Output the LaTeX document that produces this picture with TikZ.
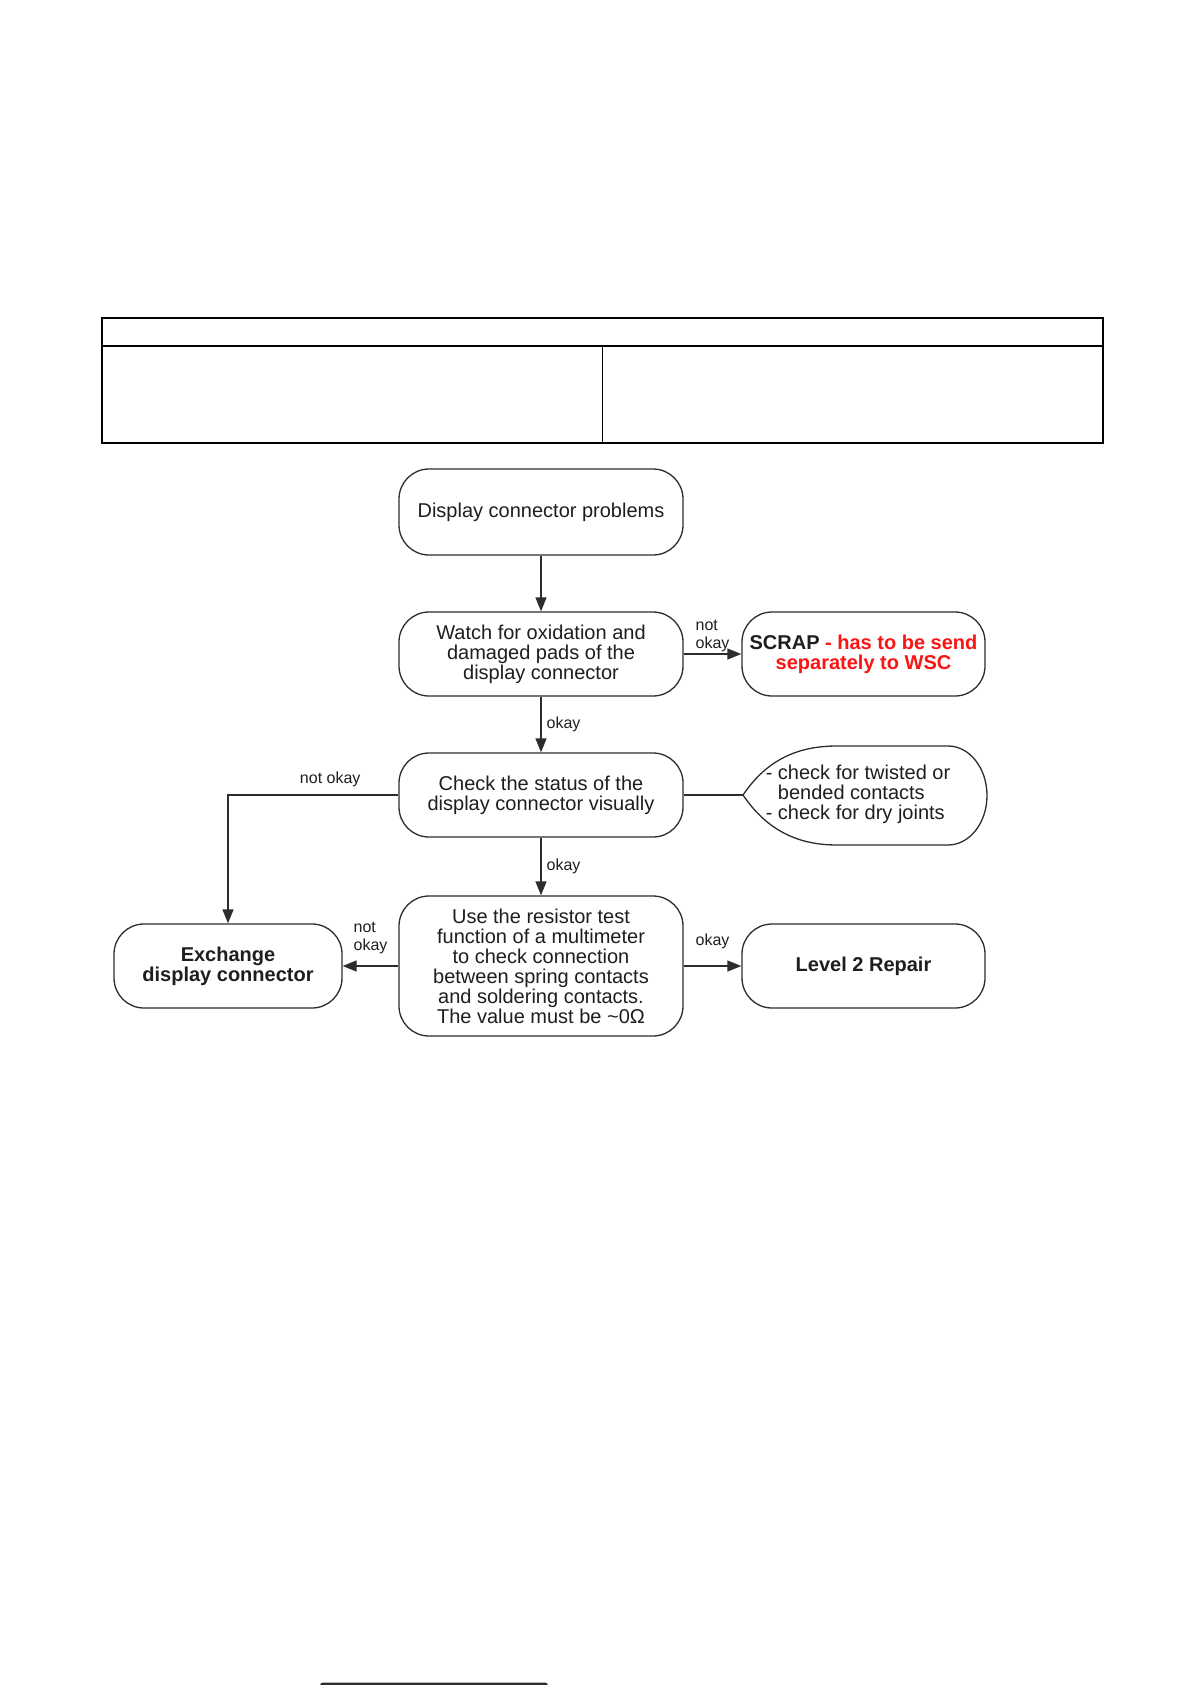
\documentclass[tikz,border=0pt]{standalone}
\usepackage{fontspec}
\setmainfont{Liberation Sans}
\usetikzlibrary{arrows.meta}
\definecolor{linegray}{RGB}{45,45,45}
\definecolor{textgray}{RGB}{30,30,30}
\definecolor{scrapred}{RGB}{250,20,20}
\tikzset{block/.style = {draw=linegray, fill=white, line width=1.3pt, rounded corners=30pt, inner sep=0pt, align=center, text=textgray, font=\fontsize{20}{20}\selectfont},
         lbl/.style = {text=textgray, font=\fontsize{16}{18}\selectfont, inner sep=0pt, align=left},
         notetext/.style = {text=textgray, font=\fontsize{20}{20}\selectfont, inner sep=0pt, align=left},
         flow/.style = {-{Triangle[length=14pt,width=11pt]}, draw=linegray, line width=1.3pt},
         plain/.style = {draw=linegray, line width=1.3pt}}

\begin{document}
\begin{tikzpicture}[x=1pt,y=-1pt]
    \useasboundingbox (0,0) rectangle (1191,1685);
    \draw[line width=1.6pt](102,318) rectangle (1103,443);
    \draw[line width=1.6pt](102,346)--(1103,346);
    \draw[line width=0.8pt](602,346)--(602,443);
    \node[block, minimum width=284pt, minimum height=86pt](prob)at(541,512){Display connector problems};
    \node[block, minimum width=284pt, minimum height=84pt](watch)at(541,654){Watch for oxidation and\\damaged pads of the\\display connector};
    \node[block, minimum width=243pt, minimum height=84pt](scrap)at(863.5,654){\textbf{SCRAP} \textcolor{scrapred}{\textbf{- has to be send}}\\\textcolor{scrapred}{\textbf{separately to WSC}}};
    \node[block, minimum width=284pt, minimum height=84pt](check)at(541,795){Check the status of the\\display connector visually};
    \node[block, minimum width=284pt, minimum height=140pt](resist)at(541,966){Use the resistor test\\function of a multimeter\\to check connection\\between spring contacts\\and soldering contacts.\\The value must be \textasciitilde 0Ω};
    \node[block, minimum width=228pt, minimum height=84pt](exch)at(228,966){\textbf{Exchange}\\\textbf{display connector}};
    \node[block, minimum width=243pt, minimum height=84pt](level)at(863.5,966){\textbf{Level 2 Repair}};
    \coordinate(tip)at(743,795);
    \draw[plain](tip)..controls(768,758)and(800,746)..(837,746)--(948,746)
        arc[start angle=90, end angle=-90, x radius=39pt, y radius=49.5pt]
        --(837,845)..controls(800,845)and(768,832)..(tip)--cycle;
    \node[notetext](notes)at(858,794){- check for twisted or\\\phantom{- }bended contacts\\- check for dry joints};
    \draw[flow](prob)--(watch);
    \draw[flow](watch.east)--(scrap.west)node[lbl, midway, above=2pt](l1){not\\okay};
    \draw[flow](watch)--(check)node[lbl, midway, right=5pt](l2){okay};
    \draw[flow](check.west)-|(exch.north)node[lbl, pos=0.2, above=8pt](l3){not okay};
    \draw[plain](check.east)--(tip);
    \draw[flow](check)--(resist)node[lbl, midway, right=5pt](l4){okay};
    \draw[flow](resist.west)--(exch.east)node[lbl, midway, above=12pt](l5){not\\okay};
    \draw[flow](resist.east)--(level.west)node[lbl, midway, above=17pt](l6){okay};
    \fill[linegray, rounded corners=3pt](320,1682.5) rectangle (548,1692);
\end{tikzpicture}
\end{document}
